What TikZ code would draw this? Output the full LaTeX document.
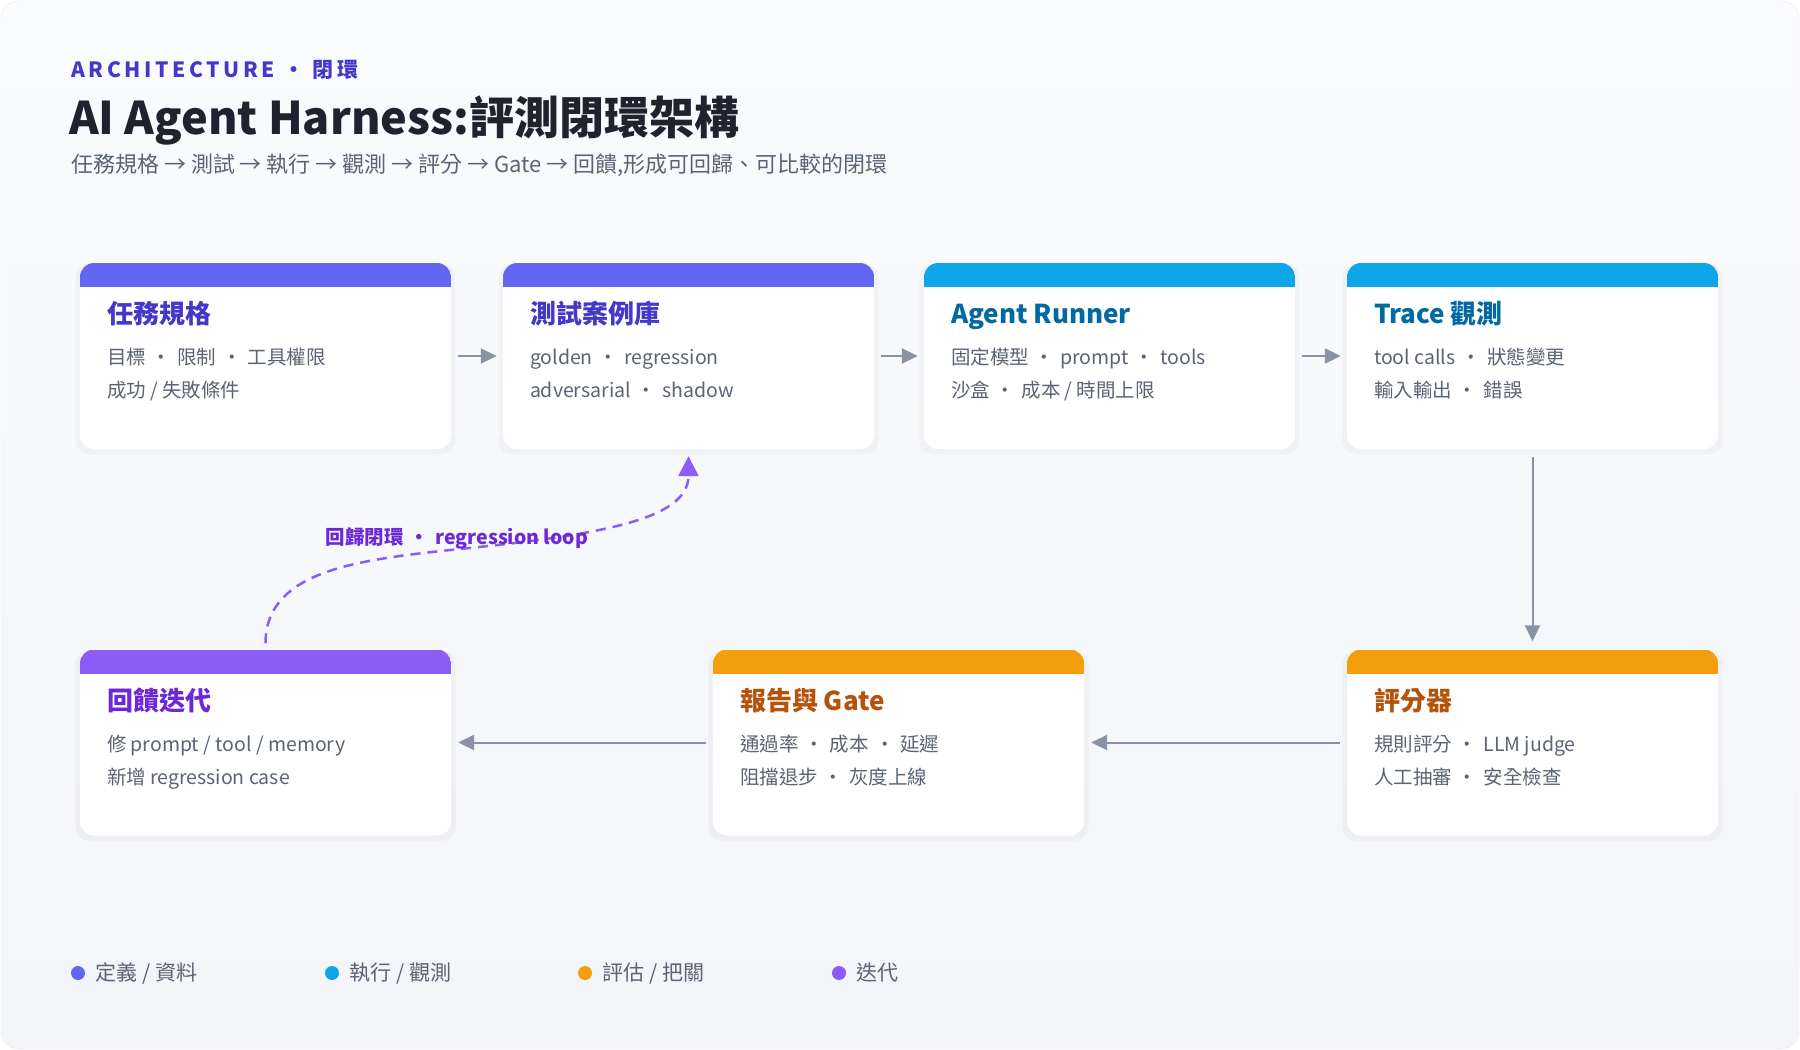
\documentclass[tikz,border=0pt]{standalone}
\usepackage{fontspec}
\setmainfont{Noto Sans CJK TC}
\usepackage{tikz}
\usetikzlibrary{arrows.meta}
\usetikzlibrary{calc}
\usetikzlibrary{shadows}

\definecolor{hdef}{HTML}{6366F1}
\definecolor{hrun}{HTML}{0EA5E9}
\definecolor{heva}{HTML}{F59E0B}
\definecolor{hite}{HTML}{8B5CF6}
\definecolor{tdef}{HTML}{4338CA}
\definecolor{trun}{HTML}{0369A1}
\definecolor{teva}{HTML}{B45309}
\definecolor{tite}{HTML}{6D28D9}
\definecolor{body}{HTML}{5B6474}
\definecolor{arr}{HTML}{8A93A6}
\definecolor{ink}{HTML}{1F2330}

\newcommand{\sepdot}{\hspace{6pt}•\hspace{6pt}}

\begin{document}
\begin{tikzpicture}[x=1pt,y=-1pt]
\tikzstyle{card} = [rectangle,rounded corners=14pt,fill=white,minimum width=371pt,
  minimum height=186pt,inner sep=0pt,
  drop shadow={shadow xshift=0pt,shadow yshift=-3pt,opacity=0.05,shadow scale=1.025}]
\tikzstyle{band} = [path picture={\fill[#1,sharp corners] (path picture bounding box.north west)
  rectangle ([yshift=-24pt]path picture bounding box.north east);}]
\tikzstyle{ttl} = [anchor=base west,inner sep=0pt,font=\fontsize{26}{30}\selectfont\bfseries]
\tikzstyle{txt} = [anchor=base west,inner sep=0pt,text=body,font=\fontsize{19.5}{23}\selectfont]
\tikzstyle{flow} = [draw=arr,line width=2pt,-{Triangle[length=16pt,width=15pt]}]
\tikzstyle{loop} = [draw=hite,line width=2.5pt,dash pattern=on 10pt off 7pt,
  -{Triangle[length=20pt,width=20pt]}]
\tikzstyle{key} = [circle,inner sep=0pt,minimum size=14pt]
\tikzstyle{keytxt} = [anchor=base west,inner sep=0pt,text=body,font=\fontsize{21}{24}\selectfont]

% background
\useasboundingbox (0,0) rectangle (1800,1050);
\fill[white] (0,0) rectangle (1800,1050);
\draw[draw=black!8,rounded corners=18pt,top color={rgb,255:red,250;green,251;blue,253},
  bottom color={rgb,255:red,243;green,245;blue,249}] (1,1) rectangle (1799,1049);

% heading
\draw(71,77) node[anchor=base west,inner sep=0pt,text=tdef,
  font=\fontsize{21}{24}\selectfont\bfseries\addfontfeatures{LetterSpace=17}] (kicker) {ARCHITECTURE • 閉環};
\draw(69,134) node[anchor=base west,inner sep=0pt,text=ink,
  font=\fontsize{45}{50}\selectfont\bfseries] (head) {AI Agent Harness:評測閉環架構};
\draw(71,172) node[anchor=base west,inner sep=0pt,text=body,
  font=\fontsize{22}{26}\selectfont] (sub) {任務規格 → 測試 → 執行 → 觀測 → 評分 → Gate → 回饋,形成可回歸、可比較的閉環};

% cards
\draw(265.5,356) node[card,band=hdef]   (spec) {};
\draw(688.5,356) node[card,band=hdef]   (cases) {};
\draw(1109.5,356) node[card,band=hrun]  (runner) {};
\draw(1532.5,356) node[card,band=hrun]  (trace) {};
\draw(265.5,742.5) node[card,band=hite] (feedback) {};
\draw(898.5,742.5) node[card,band=heva] (report) {};
\draw(1532.5,742.5) node[card,band=heva] (grader) {};

\draw($(spec.north west)+(27,61)$) node[ttl,text=tdef] (spec-t) {任務規格};
\draw($(spec.north west)+(27,102)$) node[txt] (spec-1) {目標\sepdot 限制\sepdot 工具權限};
\draw($(spec.north west)+(27,135)$) node[txt] (spec-2) {成功 / 失敗條件};

\draw($(cases.north west)+(27,61)$) node[ttl,text=tdef] (cases-t) {測試案例庫};
\draw($(cases.north west)+(27,102)$) node[txt] (cases-1) {golden\sepdot regression};
\draw($(cases.north west)+(27,135)$) node[txt] (cases-2) {adversarial\sepdot shadow};

\draw($(runner.north west)+(27,61)$) node[ttl,text=trun] (runner-t) {Agent Runner};
\draw($(runner.north west)+(27,102)$) node[txt] (runner-1) {固定模型\sepdot prompt\sepdot tools};
\draw($(runner.north west)+(27,135)$) node[txt] (runner-2) {沙盒\sepdot 成本 / 時間上限};

\draw($(trace.north west)+(27,61)$) node[ttl,text=trun] (trace-t) {Trace 觀測};
\draw($(trace.north west)+(27,102)$) node[txt] (trace-1) {tool calls\sepdot 狀態變更};
\draw($(trace.north west)+(27,135)$) node[txt] (trace-2) {輸入輸出\sepdot 錯誤};

\draw($(grader.north west)+(27,61)$) node[ttl,text=teva] (grader-t) {評分器};
\draw($(grader.north west)+(27,102)$) node[txt] (grader-1) {規則評分\sepdot LLM judge};
\draw($(grader.north west)+(27,135)$) node[txt] (grader-2) {人工抽審\sepdot 安全檢查};

\draw($(report.north west)+(27,61)$) node[ttl,text=teva] (report-t) {報告與 Gate};
\draw($(report.north west)+(27,102)$) node[txt] (report-1) {通過率\sepdot 成本\sepdot 延遲};
\draw($(report.north west)+(27,135)$) node[txt] (report-2) {阻擋退步\sepdot 灰度上線};

\draw($(feedback.north west)+(27,61)$) node[ttl,text=tite] (feedback-t) {回饋迭代};
\draw($(feedback.north west)+(27,102)$) node[txt] (feedback-1) {修 prompt / tool / memory};
\draw($(feedback.north west)+(27,135)$) node[txt] (feedback-2) {新增 regression case};

% connectors
\draw[flow,shorten <=7pt,shorten >=6pt] (spec) -- (cases);
\draw[flow,shorten <=7pt,shorten >=6pt] (cases) -- (runner);
\draw[flow,shorten <=7pt,shorten >=6pt] (runner) -- (trace);
\draw[flow,shorten <=8pt,shorten >=8pt] (trace) -- (grader);
\draw[flow,shorten <=7pt,shorten >=7pt] (grader) -- (report);
\draw[flow,shorten <=7pt,shorten >=7pt] (report) -- (feedback);

\draw[loop,shorten <=6pt,shorten >=7pt] (feedback.north) .. controls (265.5,570) and (360,560) .. (450,550)
  .. controls (600,535) and (688.5,520) .. (cases.south);
\draw(457,544) node[anchor=base,inner sep=0pt,text=tite,
  font=\fontsize{19.5}{23}\selectfont\bfseries] (loop-t) {回歸閉環\sepdot regression loop};

% legend
\draw(78,973) node[key,fill=hdef] (k1) {};
\draw(332,973) node[key,fill=hrun] (k2) {};
\draw(585,973) node[key,fill=heva] (k3) {};
\draw(839,973) node[key,fill=hite] (k4) {};
\draw($(k1.east)+(10,7.5)$) node[keytxt] (k1-t) {定義 / 資料};
\draw($(k2.east)+(10,7.5)$) node[keytxt] (k2-t) {執行 / 觀測};
\draw($(k3.east)+(10,7.5)$) node[keytxt] (k3-t) {評估 / 把關};
\draw($(k4.east)+(10,7.5)$) node[keytxt] (k4-t) {迭代};

\end{tikzpicture}
\end{document}
